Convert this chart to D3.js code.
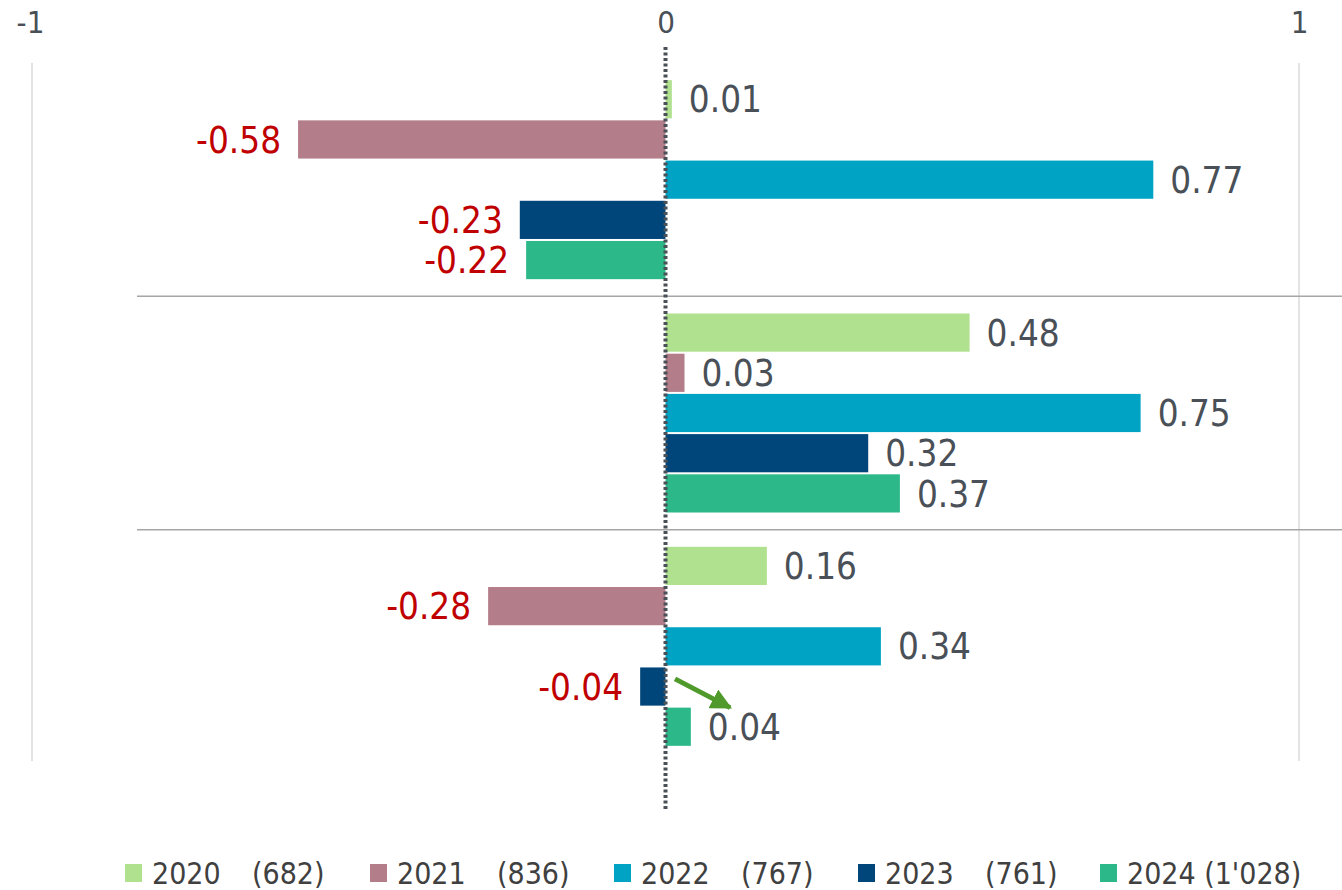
<!DOCTYPE html>
<html>
<head>
<meta charset="utf-8">
<script src="https://cdn.jsdelivr.net/npm/d3@7/dist/d3.min.js"></script>
<style>
  html, body { margin: 0; padding: 0; background: #fff; }
  svg { display: block; font-family: "DejaVu Sans Condensed", "DejaVu Sans", sans-serif; }
</style>
</head>
<body>
<svg id="chart" width="1342" height="890"></svg>
<script>
// ---- data ----
const groups = ["Group 1", "Group 2", "Group 3"];
const years = ["2020", "2021", "2022", "2023", "2024"];
const counts = ["(682)", "(836)", "(767)", "(761)", "(1'028)"];
const values2020 = [0.01, 0.48, 0.16];
const values2021 = [-0.58, 0.03, -0.28];
const values2022 = [0.77, 0.75, 0.34];
const values2023 = [-0.23, 0.32, -0.04];
const values2024 = [-0.22, 0.37, 0.04];
const xTicks = [-1, 0, 1];
const colors = ["#b0e18f", "#b47d8a", "#00a3c4", "#00467a", "#2db88a"];

const seriesValues = [values2020, values2021, values2022, values2023, values2024];
const rows = [];
groups.forEach((g, gi) => {
  years.forEach((y, si) => rows.push({ group: g, year: y, si: si, value: seriesValues[si][gi] }));
});

const svg = d3.select("#chart");
const x = d3.scaleLinear().domain([-1, 1]).range([32, 1299]);
const y0 = d3.scaleBand().domain(groups).range([63, 763]).padding(0);
const y1 = d3.scaleBand().domain(years).range([0, y0.bandwidth()]).paddingInner(0.05).paddingOuter(0.427);
const textColor = "#4a5057";
const negColor = "#c00000";
const fmt = v => d3.format(".2f")(v).replace("\u2212", "-");

// gridlines at -1 and 1
svg.append("g").selectAll("line").data(xTicks.filter(d => d !== 0)).join("line")
  .attr("x1", d => x(d)).attr("x2", d => x(d))
  .attr("y1", 63).attr("y2", 761)
  .attr("stroke", "#e3e3e3").attr("stroke-width", 2);

// top axis labels
const axis = d3.axisTop(x).tickValues(xTicks).tickFormat(d => String(d).replace("\u2212", "-")).tickSize(0).tickPadding(0);
const ag = svg.append("g").attr("transform", "translate(0,33)").call(axis);
ag.select(".domain").remove();
ag.selectAll("text").attr("font-size", 31).attr("fill", textColor)
  .attr("font-family", "DejaVu Sans Condensed, DejaVu Sans, sans-serif")
  .attr("dy", 0);
ag.selectAll("text").filter(d => d === -1).attr("dx", -2);

// group separators
svg.append("g").selectAll("line").data(groups.slice(1)).join("line")
  .attr("x1", 137).attr("x2", 1342)
  .attr("y1", d => y0(d)).attr("y2", d => y0(d))
  .attr("stroke", "#a6a6a6").attr("stroke-width", 1.5);

// bars
svg.append("g").selectAll("rect").data(rows).join("rect")
  .attr("x", d => x(Math.min(0, d.value)))
  .attr("width", d => Math.abs(x(d.value) - x(0)))
  .attr("y", d => y0(d.group) + y1(d.year))
  .attr("height", y1.bandwidth())
  .attr("fill", d => colors[d.si]);

// value labels
svg.append("g").selectAll("text").data(rows).join("text")
  .attr("x", d => d.value < 0 ? x(d.value) - 17 : x(d.value) + 17)
  .attr("y", d => y0(d.group) + y1(d.year) + y1.bandwidth() / 2)
  .attr("dy", "0.36em")
  .attr("text-anchor", d => d.value < 0 ? "end" : "start")
  .attr("font-size", 36.5)
  .attr("fill", d => d.value < 0 ? negColor : textColor)
  .text(d => fmt(d.value));

// zero dotted line
svg.append("line")
  .attr("x1", x(0)).attr("x2", x(0)).attr("y1", 47).attr("y2", 811)
  .attr("stroke", "#4a5057").attr("stroke-width", 4).attr("stroke-dasharray", "3,2.5");

// annotation arrow (group 3: 2023 -> 2024)
const g3 = groups[2];
const ax1 = x(0.015), ay1 = y0(g3) + y1("2023") + y1.bandwidth() * 0.3;
const ax2 = x(0.102), ay2 = y0(g3) + y1("2024") + 0;
svg.append("defs").append("marker")
  .attr("id", "arr").attr("viewBox", "0 0 10 10").attr("refX", 9).attr("refY", 5)
  .attr("markerWidth", 4.2).attr("markerHeight", 4.2).attr("orient", "auto")
  .append("path").attr("d", "M0,0 L10,5 L0,10 Z").attr("fill", "#4f9a2a");
svg.append("line")
  .attr("x1", ax1).attr("y1", ay1).attr("x2", ax2).attr("y2", ay2)
  .attr("stroke", "#4f9a2a").attr("stroke-width", 5).attr("marker-end", "url(#arr)");

// legend
const legendX = [125, 370, 614, 858, 1100];
const lg = svg.append("g").selectAll("g").data(years).join("g")
  .attr("transform", (d, i) => `translate(${legendX[i]},0)`);
lg.append("rect").attr("x", 0).attr("y", 864).attr("width", 17).attr("height", 18)
  .attr("fill", (d, i) => colors[i]);
const lt = lg.append("text").attr("x", 27).attr("y", 884).attr("font-size", 30).attr("fill", "#404040");
lt.append("tspan").text(d => d);
lt.append("tspan").attr("x", (d, i) => i === 4 ? null : 127).attr("dx", (d, i) => i === 4 ? 8.5 : 0)
  .text((d, i) => counts[i]);
</script>
</body>
</html>
